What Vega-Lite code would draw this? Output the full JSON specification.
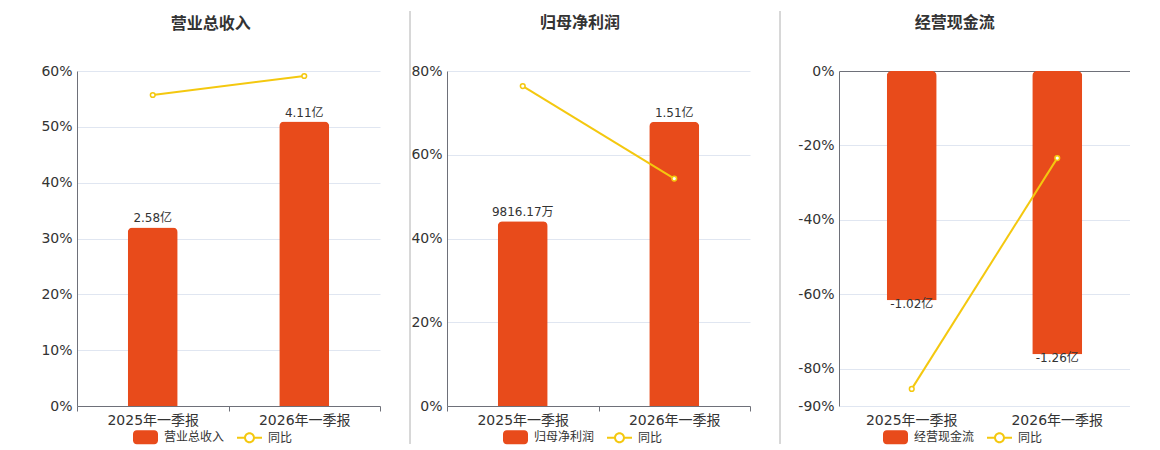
{
  "$schema": "https://vega.github.io/schema/vega-lite/v6.json",
  "background": "white",
  "padding": {"left": 40, "top": 10, "right": 0, "bottom": 0},
  "spacing": 28,
  "datasets": {
    "revenue": [
      {"period": "2025年一季报", "value": 2.58, "label": "2.58亿", "yoy": 55.7},
      {"period": "2026年一季报", "value": 4.11, "label": "4.11亿", "yoy": 59.1}
    ],
    "profit": [
      {"period": "2025年一季报", "value": 0.981617, "label": "9816.17万", "yoy": 76.4},
      {"period": "2026年一季报", "value": 1.51, "label": "1.51亿", "yoy": 54.3}
    ],
    "cashflow": [
      {"period": "2025年一季报", "value": -1.02, "label": "-1.02亿", "yoy": -85.4},
      {"period": "2026年一季报", "value": -1.26, "label": "-1.26亿", "yoy": -23.4}
    ]
  },
  "hconcat": [
    {
      "title": {"text": "营业总收入", "frame": "bounds", "offset": -21},
      "width": 303,
      "height": 335,
      "data": {"name": "revenue"},
      "layer": [
        {
          "mark": {"type": "bar", "width": 50, "cornerRadiusEnd": 5},
          "encoding": {
            "x": {"field": "period", "type": "nominal", "sort": null, "scale": {"type": "band", "paddingInner": 0, "paddingOuter": 0},
              "axis": {"title": null, "labelAngle": 0, "domain": false, "ticks": true, "tickBand": "extent", "tickSize": 5, "tickColor": "#6E7079", "labelPadding": 2, "grid": false}},
            "y": {"field": "value", "type": "quantitative", "scale": {"domain": [0, 4.84], "nice": false, "zero": false}, "axis": null},
            "color": {"datum": "营业总收入", "scale": {"domain": ["营业总收入", "同比"], "range": ["#E84B1B", "#F4C80F"]},
              "legend": {"orient": "none", "legendX": 56, "legendY": 353.5, "direction": "horizontal", "title": null,
                "encode": {"symbols": {"update": {
                  "shape": [{"test": "datum.value === '同比'", "value": "M-1,-0.08H-0.4V0.08H-1Z M0.4,-0.08H1V0.08H0.4Z M-0.44,0A0.44,0.44 0 1 1 0.44,0A0.44,0.44 0 1 1 -0.44,0Z M-0.28,0A0.28,0.28 0 1 0 0.28,0A0.28,0.28 0 1 0 -0.28,0Z"}, {"value": "M-0.7,-0.56H0.7A0.3,0.3 0 0 1 1,-0.26V0.26A0.3,0.3 0 0 1 0.7,0.56H-0.7A0.3,0.3 0 0 1 -1,0.26V-0.26A0.3,0.3 0 0 1 -0.7,-0.56Z"}],
                  "strokeWidth": {"value": 0}, "fillOpacity": {"value": 1}, "opacity": {"value": 1}
                }}}}}
          }
        },
        {
          "mark": {"type": "text", "baseline": "alphabetic", "dy": -5, "fontSize": 12, "color": "#333"},
          "encoding": {
            "x": {"field": "period", "type": "nominal", "sort": null, "scale": {"type": "band", "paddingInner": 0, "paddingOuter": 0}, "axis": null},
            "y": {"field": "value", "type": "quantitative", "scale": {"domain": [0, 4.84], "nice": false, "zero": false}, "axis": null},
            "text": {"field": "label"}
          }
        },
        {
          "mark": {"type": "line", "strokeWidth": 2, "point": {"filled": false, "fill": "white", "size": 22, "strokeWidth": 1.5}},
          "encoding": {
            "x": {"field": "period", "type": "nominal", "sort": null, "scale": {"type": "band", "paddingInner": 0, "paddingOuter": 0}, "axis": null},
            "y": {"field": "yoy", "type": "quantitative", "scale": {"domain": [0, 60], "nice": false, "zero": false},
              "axis": {"orient": "left", "title": null, "values": [0, 10, 20, 30, 40, 50, 60], "labelExpr": "datum.value + '%'",
                "grid": true, "gridColor": {"condition": {"test": "datum.value === 0", "value": "#6E7079"}, "value": "#E0E6F1"}}},
            "color": {"datum": "同比"}
          }
        },
        {
          "data": {"values": [{}]},
          "mark": {"type": "rule", "color": "#B0B0B0", "opacity": 0},
          "encoding": {
            "x": {"datum": 0, "type": "quantitative", "scale": {"domain": [0, 1], "nice": false, "zero": false}, "axis": null},
            "y": {"datum": 70.75, "type": "quantitative", "scale": {"domain": [0, 60], "nice": false, "zero": false}, "axis": null},
            "y2": {"datum": -6.8}
          }
        }
      ],
      "resolve": {"scale": {"x": "independent", "y": "independent"}}
    },
    {
      "title": {"text": "归母净利润", "frame": "bounds", "offset": -21},
      "width": 303,
      "height": 335,
      "data": {"name": "profit"},
      "layer": [
        {
          "mark": {"type": "bar", "width": 50, "cornerRadiusEnd": 5},
          "encoding": {
            "x": {"field": "period", "type": "nominal", "sort": null, "scale": {"type": "band", "paddingInner": 0, "paddingOuter": 0},
              "axis": {"title": null, "labelAngle": 0, "domain": false, "ticks": true, "tickBand": "extent", "tickSize": 5, "tickColor": "#6E7079", "labelPadding": 2, "grid": false}},
            "y": {"field": "value", "type": "quantitative", "scale": {"domain": [0, 1.78], "nice": false, "zero": false}, "axis": null},
            "color": {"datum": "归母净利润", "scale": {"domain": ["归母净利润", "同比"], "range": ["#E84B1B", "#F4C80F"]},
              "legend": {"orient": "none", "legendX": 56, "legendY": 353.5, "direction": "horizontal", "title": null,
                "encode": {"symbols": {"update": {
                  "shape": [{"test": "datum.value === '同比'", "value": "M-1,-0.08H-0.4V0.08H-1Z M0.4,-0.08H1V0.08H0.4Z M-0.44,0A0.44,0.44 0 1 1 0.44,0A0.44,0.44 0 1 1 -0.44,0Z M-0.28,0A0.28,0.28 0 1 0 0.28,0A0.28,0.28 0 1 0 -0.28,0Z"}, {"value": "M-0.7,-0.56H0.7A0.3,0.3 0 0 1 1,-0.26V0.26A0.3,0.3 0 0 1 0.7,0.56H-0.7A0.3,0.3 0 0 1 -1,0.26V-0.26A0.3,0.3 0 0 1 -0.7,-0.56Z"}],
                  "strokeWidth": {"value": 0}, "fillOpacity": {"value": 1}, "opacity": {"value": 1}
                }}}}}
          }
        },
        {
          "mark": {"type": "text", "baseline": "alphabetic", "dy": -5, "fontSize": 12, "color": "#333"},
          "encoding": {
            "x": {"field": "period", "type": "nominal", "sort": null, "scale": {"type": "band", "paddingInner": 0, "paddingOuter": 0}, "axis": null},
            "y": {"field": "value", "type": "quantitative", "scale": {"domain": [0, 1.78], "nice": false, "zero": false}, "axis": null},
            "text": {"field": "label"}
          }
        },
        {
          "mark": {"type": "line", "strokeWidth": 2, "point": {"filled": false, "fill": "white", "size": 22, "strokeWidth": 1.5}},
          "encoding": {
            "x": {"field": "period", "type": "nominal", "sort": null, "scale": {"type": "band", "paddingInner": 0, "paddingOuter": 0}, "axis": null},
            "y": {"field": "yoy", "type": "quantitative", "scale": {"domain": [0, 80], "nice": false, "zero": false},
              "axis": {"orient": "left", "title": null, "values": [0, 20, 40, 60, 80], "labelExpr": "datum.value + '%'",
                "grid": true, "gridColor": {"condition": {"test": "datum.value === 0", "value": "#6E7079"}, "value": "#E0E6F1"}}},
            "color": {"datum": "同比"}
          }
        },
        {
          "data": {"values": [{}]},
          "mark": {"type": "rule", "color": "#B0B0B0"},
          "encoding": {
            "x": {"datum": -0.1221, "type": "quantitative", "scale": {"domain": [0, 1], "nice": false, "zero": false}, "axis": null},
            "y": {"datum": 94.33, "type": "quantitative", "scale": {"domain": [0, 80], "nice": false, "zero": false}, "axis": null},
            "y2": {"datum": -9.07}
          }
        }
      ],
      "resolve": {"scale": {"x": "independent", "y": "independent"}}
    },
    {
      "title": {"text": "经营现金流", "frame": "bounds", "offset": -21},
      "width": 291,
      "height": 335,
      "data": {"name": "cashflow"},
      "layer": [
        {
          "mark": {"type": "bar", "width": 50, "cornerRadiusEnd": 5},
          "encoding": {
            "x": {"field": "period", "type": "nominal", "sort": null, "scale": {"type": "band", "paddingInner": 0, "paddingOuter": 0},
              "axis": {"title": null, "labelAngle": 0, "domain": false, "ticks": false, "tickSize": 0, "labelPadding": 7, "grid": false}},
            "y": {"field": "value", "type": "quantitative", "scale": {"domain": [-1.49, 0], "nice": false, "zero": false}, "axis": null},
            "color": {"datum": "经营现金流", "scale": {"domain": ["经营现金流", "同比"], "range": ["#E84B1B", "#F4C80F"]},
              "legend": {"orient": "none", "legendX": 44, "legendY": 353.5, "direction": "horizontal", "title": null,
                "encode": {"symbols": {"update": {
                  "shape": [{"test": "datum.value === '同比'", "value": "M-1,-0.08H-0.4V0.08H-1Z M0.4,-0.08H1V0.08H0.4Z M-0.44,0A0.44,0.44 0 1 1 0.44,0A0.44,0.44 0 1 1 -0.44,0Z M-0.28,0A0.28,0.28 0 1 0 0.28,0A0.28,0.28 0 1 0 -0.28,0Z"}, {"value": "M-0.7,-0.56H0.7A0.3,0.3 0 0 1 1,-0.26V0.26A0.3,0.3 0 0 1 0.7,0.56H-0.7A0.3,0.3 0 0 1 -1,0.26V-0.26A0.3,0.3 0 0 1 -0.7,-0.56Z"}],
                  "strokeWidth": {"value": 0}, "fillOpacity": {"value": 1}, "opacity": {"value": 1}
                }}}}}
          }
        },
        {
          "mark": {"type": "text", "baseline": "top", "dy": -1, "fontSize": 12, "color": "#333"},
          "encoding": {
            "x": {"field": "period", "type": "nominal", "sort": null, "scale": {"type": "band", "paddingInner": 0, "paddingOuter": 0}, "axis": null},
            "y": {"field": "value", "type": "quantitative", "scale": {"domain": [-1.49, 0], "nice": false, "zero": false}, "axis": null},
            "text": {"field": "label"}
          }
        },
        {
          "mark": {"type": "line", "strokeWidth": 2, "point": {"filled": false, "fill": "white", "size": 22, "strokeWidth": 1.5}},
          "encoding": {
            "x": {"field": "period", "type": "nominal", "sort": null, "scale": {"type": "band", "paddingInner": 0, "paddingOuter": 0}, "axis": null},
            "y": {"field": "yoy", "type": "quantitative", "scale": {"domain": [-90, 0], "nice": false, "zero": false},
              "axis": {"orient": "left", "title": null, "values": [0, -20, -40, -60, -80, -90], "labelExpr": "datum.value + '%'",
                "grid": true, "gridColor": {"condition": {"test": "datum.value === 0", "value": "#6E7079"}, "value": "#E0E6F1"}}},
            "color": {"datum": "同比"}
          }
        },
        {
          "data": {"values": [{}]},
          "mark": {"type": "rule", "color": "#B0B0B0"},
          "encoding": {
            "x": {"datum": -0.2027, "type": "quantitative", "scale": {"domain": [0, 1], "nice": false, "zero": false}, "axis": null},
            "y": {"datum": 16.12, "type": "quantitative", "scale": {"domain": [-90, 0], "nice": false, "zero": false}, "axis": null},
            "y2": {"datum": -100.2}
          }
        }
      ],
      "resolve": {"scale": {"x": "independent", "y": "independent"}}
    }
  ],
  "resolve": {"scale": {"color": "independent"}, "legend": {"color": "independent"}},
  "config": {
    "font": "DejaVu Sans, Noto Sans CJK SC",
    "view": {"stroke": null},
    "title": {"font": "Noto Sans CJK SC", "fontSize": 16, "fontWeight": "bold", "color": "#333", "anchor": "middle"},
    "axis": {
      "labelFont": "DejaVu Sans, Noto Sans CJK SC",
      "labelFontSize": 14,
      "labelColor": "#333",
      "domainColor": "#6E7079",
      "ticks": false,
      "tickSize": 0,
      "labelPadding": 5
    },
    "axisY": {"domain": true},
    "legend": {"labelFont": "DejaVu Sans, Noto Sans CJK SC", "labelFontSize": 12, "labelColor": "#333", "labelOffset": 6, "columnPadding": 12, "symbolSize": 625, "padding": 0}
  }
}
